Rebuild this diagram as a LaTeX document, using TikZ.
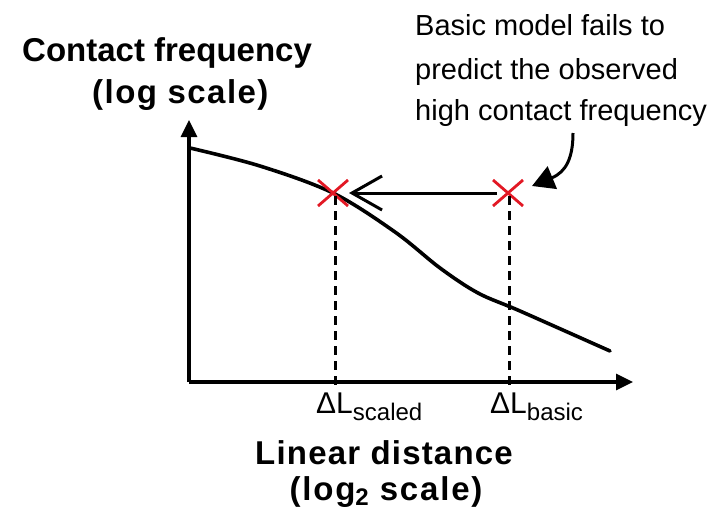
\documentclass[tikz,border=0pt]{standalone}
\usepackage{fontspec}
\setmainfont{Liberation Sans}
\usetikzlibrary{arrows.meta,calc}
\definecolor{markred}{RGB}{226,24,36}
\newcommand{\spaced}[1]{\addfontfeatures{LetterSpace=#1}}
\newcommand{\lowsub}[2]{\raisebox{-#1pt}{\fontsize{24}{28}\selectfont #2}}
\tikzset{
  axis/.style={line width=3.2pt, -{Triangle[length=17pt,width=16pt]}},
  curveline/.style={line width=3.6pt, line cap=round},
  guide/.style={line width=3pt, dash pattern=on 9pt off 6pt},
  shift arrow/.style={line width=3pt, -{Straight Barb[length=30pt,width=34pt,line width=3pt]}},
  note arrow/.style={line width=3pt, -{Triangle[length=22pt,width=24pt]}},
  crossmark/.style={markred, line width=2.8pt},
  bigtitle/.style={font=\fontsize{33}{38}\selectfont\bfseries, inner sep=0pt},
  ticklabel/.style={font=\fontsize{30}{34}\selectfont, inner sep=0pt},
  notetext/.style={font=\fontsize{29}{34}\selectfont, inner sep=0pt}
}
\begin{document}
\begin{tikzpicture}[x=1pt, y=-1pt]
\useasboundingbox (0,0) rectangle (727,519);

% axes
\coordinate (O) at (189,382);
\coordinate (ytop) at (189,120);
\coordinate (xend) at (633,382);
\draw[axis] (O) -- (ytop);
\draw[axis] (O) -- (xend);

% contact frequency curve
\draw[curveline] plot[smooth, tension=0.55] coordinates {
  (190,148) (260,166) (333,193) (395,232) (440,268) (478,293) (520,311) (610,351)};

% crosses at the two distances
\coordinate (Ps) at (333,193);
\coordinate (Pb) at (508,193);
\draw[crossmark] ($(Ps)+(-15,-13)$) -- ($(Ps)+(15,13)$) ($(Ps)+(-15,13)$) -- ($(Ps)+(15,-13)$);
\draw[crossmark] ($(Pb)+(-15,-13)$) -- ($(Pb)+(15,13)$) ($(Pb)+(-15,13)$) -- ($(Pb)+(15,-13)$);

% dashed guides down to the x axis
\coordinate (As) at (335,386);
\coordinate (Ab) at (509,386);
\draw[guide] (335,196) -- (As);
\draw[guide] (509,196) -- (Ab);

% shift from basic to scaled distance
\coordinate (shiftfrom) at (497,193);
\coordinate (shiftto) at (349,193);
\draw[shift arrow] (shiftfrom) -- (shiftto);

% axis labels
\node[bigtitle, anchor=base west] (ytitle1) at (22,62) {Contact frequency};
\node[bigtitle, anchor=base west] (ytitle2) at (92,103) {\spaced{4.4}(log scale)};
\node[bigtitle, anchor=base] (xtitle1) at (384,464) {\spaced{3.6}Linear distance};
\node[bigtitle, anchor=base] (xtitle2) at (386,500) {\spaced{5.5}(log\lowsub{5}{\bfseries 2} scale)};

\node[ticklabel, anchor=base west] (ls) at (316,413) {ΔL\lowsub{7}{scaled}};
\node[ticklabel, anchor=base west] (lb) at (490,413) {ΔL\lowsub{7}{basic}};

% annotation
\node[notetext, anchor=base west] (n1) at (415,36) {Basic model fails to};
\node[notetext, anchor=base west] (n2) at (415,79) {predict the observed};
\node[notetext, anchor=base west] (n3) at (415,120) {high contact frequency};
\coordinate (nstart) at (573,133);
\coordinate (ntip) at (532,186);
\draw[note arrow] (nstart) .. controls (573,158) and (566,172) .. (ntip);
\end{tikzpicture}
\end{document}
